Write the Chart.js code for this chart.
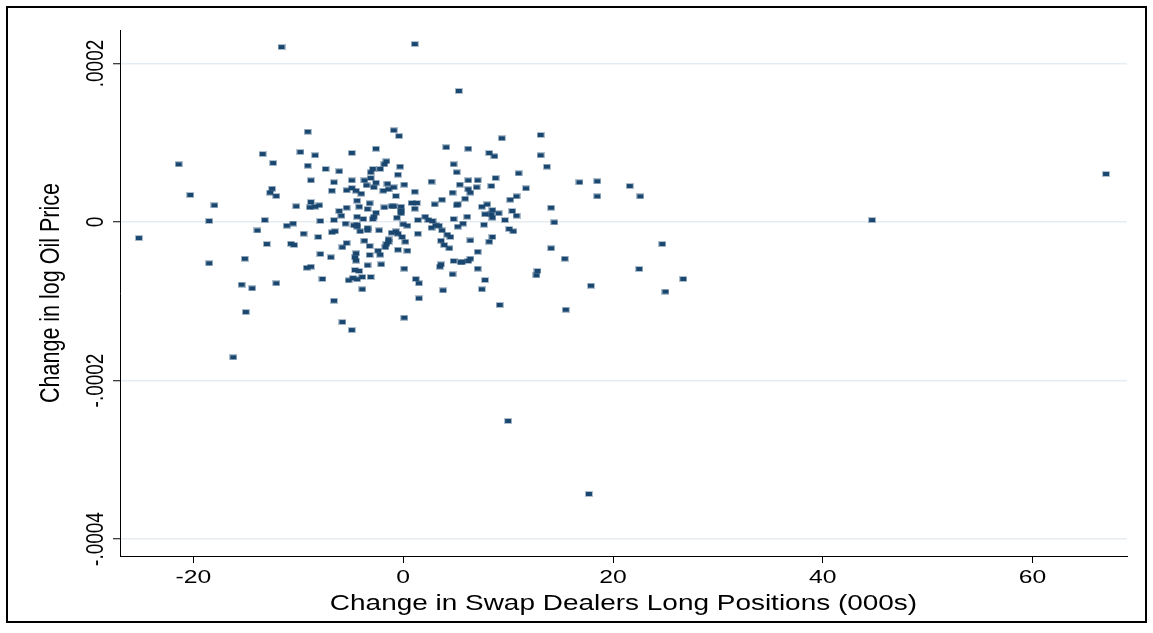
<!DOCTYPE html>
<html>
<head>
<meta charset="utf-8">
<script src="https://cdn.jsdelivr.net/npm/chart.js@4.4.1/dist/chart.umd.min.js"></script>
<style>
  html, body { margin: 0; padding: 0; background: #fff; }
  #wrap { position: relative; width: 1153px; height: 633px; }
  #chart { position: absolute; left: 0; top: 0; }
  #frame {
    position: absolute; left: 6px; top: 6px; width: 1137px; height: 613px;
    border: 2px solid #000; pointer-events: none;
  }
</style>
</head>
<body>
<div id="wrap">
  <canvas id="chart" width="1153" height="633"></canvas>
  <div id="frame"></div>
</div>
<script>
// Change in swap dealers long positions (000s)
const swapChange = [
  -25.2, -21.4, -20.3, -18.5, -18.5, -18.0, -16.2, -15.1, -15.4, -15.0, -14.4, -11.6, 1.1, 5.3, 10.0, 17.7, 44.7, 67.0,
  -13.4, -12.4, -12.5, -12.7, -12.1, -10.2, -9.8, -13.2, -11.1, -10.5, -13.9, -13.0, -10.7, -10.4, -12.1,
  -9.1, -0.9, -0.4, -8.4, -4.9, -2.6, 4.1, 6.2, -9.1, -7.4,
  -6.1, -1.6, -1.8, -0.3, -2.9, -3.1, -2.2, -0.5, 4.8, 5.1,
  -8.8, -6.6, -4.9, -3.7, -3.1, -3.5, -2.6, -2.8, -1.5, 0.1,
  -0.9, -1.4, -1.9, 2.7, 6.2, -6.8, -5.4, -4.9, -4.5, -4.0,
  -0.7, 1.1, 4.7, 5.4, 5.9, -8.8, -8.9, -8.4, -8.0, -4.4,
  -3.2, -4.2, -5.4, -3.4, -1.8, -1.1, -0.9, -0.2, -0.2, -0.2,
  0.8, 1.3, 1.1, 3.0, 3.7, 5.1, 5.2, -6.1, -5.9, -2.6,
  -2.8, -2.9, -6.6, -7.9, -4.4, -3.8, -5.5, -0.6, 1.4, 2.1,
  2.4, 2.8, 4.8, 5.7, 6.1,
  9.4, 13.1, 8.2, 8.7, 13.1, 13.7, 11.0, 7.1, 8.8, 7.0,
  6.2, 6.4, 8.4, 11.7, 16.8, 18.5, 21.6, 18.5, 22.6, 10.8,
  10.2, 8.0, 7.5, 8.5, 9.1, 7.8, 8.4, 8.5, 10.4, 10.8,
  14.1, 9.7, 14.4, 7.7, 10.1, 10.5, 6.4, 8.5, 8.2, 7.1,
  5.6, 6.2, 6.4, 7.1, 7.8, 7.5, 9.2, 14.1, 15.4, 12.8,
  12.7, 17.9, 15.5, 24.7, 22.5, 26.7, 25.0,
  -9.5, -8.1, -6.8, -6.5, -4.7, -4.4, -4.4, -4.1, -3.4, -3.4,
  -2.3, -1.1, -0.7, -0.5, 0.0, 0.4, 1.4, 2.7, 3.1, 3.4,
  3.7, 4.2, 4.5, 5.2, -5.4, -5.8, -3.7, -3.2, -1.4, -1.4,
  -1.6, -1.7, 0.2, -0.1, -2.4, -2.2, -0.5, 0.4, 3.6, 3.9,
  4.4, -7.9, -6.9, -4.5, -4.6, -4.5, -3.2, -3.4, -2.1, 0.1,
  4.8, 5.5, 3.6, 3.5, -9.2, -8.8, -4.6, -4.2, 4.7, -7.7,
  -5.2, -4.8, -4.4, -3.9, -3.1, 1.2, 1.5, -3.9, 3.8, 1.5,
  -6.6, 0.1, -5.8, -4.9,
];

// Change in log oil price, same order as swapChange
const oilChange = [
  -20.2e-6, 72.8e-6, 34.1e-6, 1.3e-6, -52.1e-6, 21.1e-6, -170.7e-6, -46.3e-6, -79.1e-6, -113.6e-6, -83.7e-6, 220.8e-6, 224.6e-6, 165.3e-6, -251.1e-6, -343.2e-6, 2.5e-6, 60.6e-6,
  85.8e-6, 74.4e-6, 42.0e-6, 37.0e-6, 32.8e-6, 19.8e-6, 88.3e-6, 2.5e-6, -4.7e-6, -1.9e-6, -10.7e-6, -27.8e-6, -27.4e-6, -29.0e-6, -77.3e-6,
  113.9e-6, 115.7e-6, 108.5e-6, 84.2e-6, 87.1e-6, 92.5e-6, 94.3e-6, 92.5e-6, 71.0e-6, 66.9e-6,
  64.0e-6, 76.6e-6, 72.8e-6, 69.8e-6, 66.9e-6, 62.7e-6, 66.9e-6, 59.7e-6, 72.8e-6, 62.7e-6,
  52.6e-6, 50.1e-6, 52.6e-6, 52.6e-6, 55.5e-6, 46.3e-6, 49.6e-6, 43.8e-6, 48.3e-6, 47.1e-6,
  43.8e-6, 41.3e-6, 39.5e-6, 50.9e-6, 52.6e-6, 39.5e-6, 40.0e-6, 42.9e-6, 39.5e-6, 35.7e-6,
  32.8e-6, 38.2e-6, 37.0e-6, 47.1e-6, 29.4e-6, 25.2e-6, 18.5e-6, 19.3e-6, 21.1e-6, 26.9e-6,
  23.6e-6, 19.3e-6, 18.0e-6, 16.4e-6, 18.5e-6, 19.8e-6, 19.8e-6, 19.3e-6, 13.9e-6, 11.0e-6,
  24.0e-6, 24.0e-6, 16.8e-6, 22.3e-6, 28.1e-6, 21.1e-6, 22.3e-6, 13.9e-6, 7.9e-6, 11.7e-6,
  6.7e-6, 3.8e-6, 2.5e-6, 1.3e-6, 6.7e-6, 3.8e-6, -2.1e-6, 5.4e-6, 2.5e-6, 6.7e-6,
  2.5e-6, 1.3e-6, 3.8e-6, -1.9e-6, 6.7e-6,
  105.6e-6, 109.8e-6, 87.1e-6, 82.9e-6, 84.2e-6, 69.8e-6, 61.4e-6, 52.6e-6, 55.5e-6, 43.8e-6,
  41.3e-6, 37.0e-6, 45.4e-6, 42.5e-6, 50.1e-6, 51.4e-6, 45.4e-6, 32.4e-6, 32.4e-6, 32.4e-6,
  28.1e-6, 22.3e-6, 19.3e-6, 15.1e-6, 11.0e-6, 9.7e-6, 9.7e-6, 5.4e-6, 13.9e-6, 7.9e-6,
  18.0e-6, 2.5e-6, -0.4e-6, -3.4e-6, -8.8e-6, -11.7e-6, -23.3e-6, -18.9e-6, -24.9e-6, -37.6e-6,
  -50.5e-6, -49.2e-6, -46.3e-6, -58.9e-6, -73.2e-6, -84.9e-6, -104.7e-6, -33.2e-6, -46.3e-6, -61.8e-6,
  -67.3e-6, -80.4e-6, -110.7e-6, -27.8e-6, -59.3e-6, -71.9e-6, -87.9e-6,
  -14.8e-6, -18.9e-6, -13.0e-6, -11.7e-6, -4.2e-6, -3.4e-6, -5.9e-6, -11.7e-6, -7.6e-6, -10.5e-6,
  -10.5e-6, -13.5e-6, -11.7e-6, -14.8e-6, -2.9e-6, -4.7e-6, -14.8e-6, -7.2e-6, -4.2e-6, -4.7e-6,
  -10.5e-6, -16.0e-6, -18.9e-6, -5.9e-6, -26.5e-6, -31.9e-6, -23.6e-6, -30.3e-6, -21.8e-6, -25.2e-6,
  -27.8e-6, -31.9e-6, -24.9e-6, -18.9e-6, -36.2e-6, -41.3e-6, -35.0e-6, -36.2e-6, -23.6e-6, -29.0e-6,
  -33.2e-6, -40.4e-6, -44.5e-6, -39.5e-6, -44.5e-6, -48.8e-6, -41.6e-6, -54.6e-6, -53.4e-6, -58.9e-6,
  -49.2e-6, -50.9e-6, -53.4e-6, -56.4e-6, -57.7e-6, -56.4e-6, -60.6e-6, -61.8e-6, -66.0e-6, -71.9e-6,
  -73.6e-6, -70.7e-6, -72.3e-6, -69.4e-6, -69.4e-6, -71.9e-6, -77.3e-6, -84.9e-6, -86.2e-6, -96.3e-6,
  -99.3e-6, -120.8e-6, -126.2e-6, -136.3e-6,
];

const xTicks = [-20, 0, 20, 40, 60];
const xTickLabels = ["-20", "0", "20", "40", "60"];
const yTicks = [-0.0004, -0.0002, 0, 0.0002];
const yTickLabels = ["-.0004", "-.0002", "0", ".0002"];
const xTitle = "Change in Swap Dealers Long Positions (000s)";
const yTitle = "Change in log Oil Price";

const NAVY = "#1a476f";
const FONT = '"Liberation Sans", Arial, sans-serif';
const STRETCH = 1.3; // the source graph is widened, text included

// small filled rectangle, Stata style marker
const marker = document.createElement("canvas");
marker.width = 8;
marker.height = 6;
const mctx = marker.getContext("2d");
mctx.fillStyle = "rgba(26,71,111,0.35)";
mctx.fillRect(0, 0, 8, 6);
mctx.fillStyle = NAVY;
mctx.fillRect(1, 1, 6, 4);

function drawText(ctx, text, x, y, angle) {
  ctx.save();
  ctx.translate(x, y);
  ctx.scale(STRETCH, 1);
  ctx.rotate(angle);
  ctx.fillText(text, 0, 0);
  ctx.restore();
}

const axisText = {
  id: "axisText",
  afterDraw(chart) {
    const { ctx, chartArea, scales } = chart;
    ctx.save();
    ctx.fillStyle = "#000";
    ctx.textAlign = "center";
    ctx.textBaseline = "middle";
    ctx.font = `19px ${FONT}`;
    xTicks.forEach((v, i) => {
      drawText(ctx, xTickLabels[i], scales.x.getPixelForValue(v), 578, 0);
    });
    yTicks.forEach((v, i) => {
      drawText(ctx, yTickLabels[i], 96, scales.y.getPixelForValue(v), -Math.PI / 2);
    });
    ctx.font = `21.5px ${FONT}`;
    drawText(ctx, xTitle, (chartArea.left + chartArea.right) / 2, 604, 0);
    drawText(ctx, yTitle, 51, (chartArea.top + chartArea.bottom) / 2, -Math.PI / 2);
    ctx.restore();
  },
};

new Chart(document.getElementById("chart"), {
  type: "scatter",
  data: {
    datasets: [{
      data: swapChange.map((x, i) => ({ x, y: oilChange[i] })),
      pointStyle: marker,
      pointRadius: 4,
      backgroundColor: NAVY,
      borderColor: NAVY,
    }],
  },
  options: {
    responsive: false,
    animation: false,
    devicePixelRatio: 1,
    layout: { padding: { top: 30, right: 26, left: 0, bottom: 0 } },
    plugins: {
      legend: { display: false },
      tooltip: { enabled: false },
    },
    scales: {
      x: {
        type: "linear",
        min: -27,
        max: 69,
        afterBuildTicks: (scale) => { scale.ticks = xTicks.map((value) => ({ value })); },
        afterFit: (scale) => { scale.height = 77; },
        ticks: { display: false },
        grid: {
          drawOnChartArea: false,
          drawTicks: true,
          tickLength: 7,
          tickColor: "#000",
          tickWidth: 1,
        },
        border: { display: true, color: "#000", width: 1 },
      },
      y: {
        type: "linear",
        min: -0.00042145,
        max: 0.00024227,
        afterBuildTicks: (scale) => { scale.ticks = yTicks.map((value) => ({ value })); },
        afterFit: (scale) => { scale.width = 120; },
        ticks: { display: false },
        grid: {
          color: "#e6edf2",
          lineWidth: 1.5,
          drawTicks: true,
          tickLength: 7,
          tickColor: "#000",
          tickWidth: 1,
        },
        border: { display: true, color: "#000", width: 1 },
      },
    },
  },
  plugins: [axisText],
});
</script>
</body>
</html>
